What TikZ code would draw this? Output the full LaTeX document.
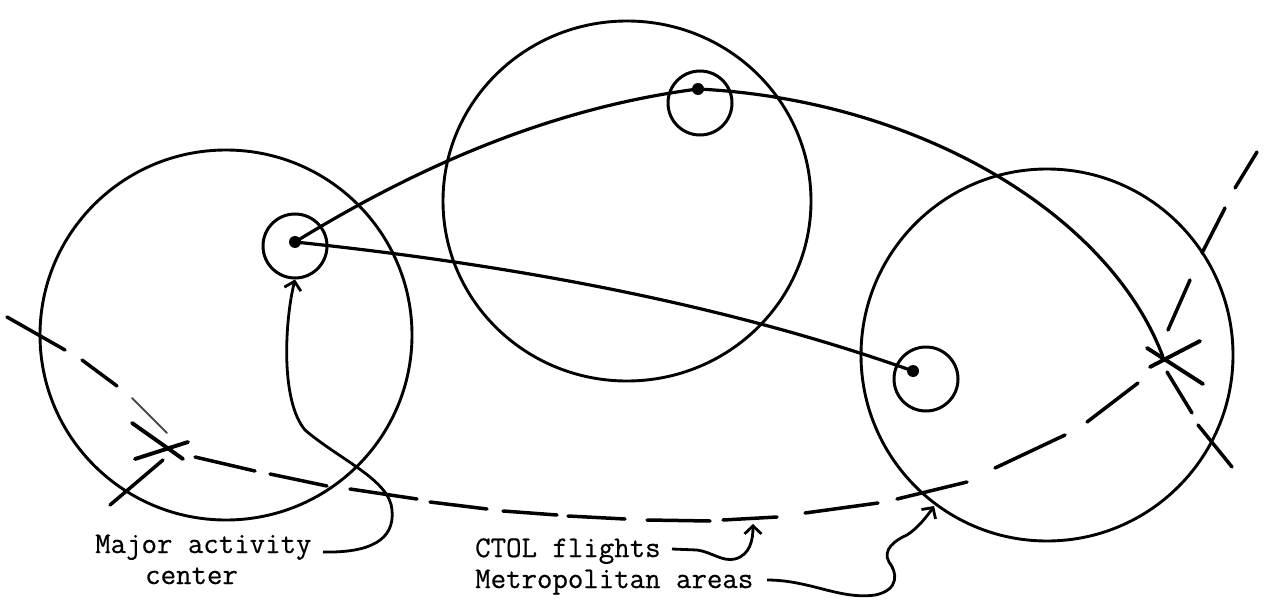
\documentclass[tikz,border=0pt]{standalone}
\usepackage{fontspec}
\setmonofont{Latin Modern Mono}[FakeBold=0.6]
\usetikzlibrary{arrows.meta}
\begin{document}
\begin{tikzpicture}[x=1pt,y=-1pt,
  bigc/.style={line width=2.9pt},
  smallc/.style={draw,circle,line width=3pt,minimum size=64pt,inner sep=0pt},
  dotc/.style={fill,circle,minimum size=12pt,inner sep=0pt},
  flight/.style={line width=3.2pt},
  ctol/.style={line width=3.5pt,line cap=round},
  faint/.style={line width=2pt,line cap=round,black!70},
  xmark/.style={line width=3.9pt,line cap=round},
  leader/.style={line width=2.8pt,-{Straight Barb[length=8pt,width=17pt]}},
  lab/.style={inner sep=0pt,anchor=base west,font=\fontsize{30}{32}\selectfont\ttfamily}]
\useasboundingbox (0,0) rectangle (1266,599);
% metropolitan areas
\draw[bigc] (226,335) ellipse [x radius=186,y radius=185];
\draw[bigc] (627,201) ellipse [x radius=184,y radius=180];
\draw[bigc] (1047,355) ellipse [x radius=186,y radius=186];
% major activity centers
\node[smallc] (c1) at (295,246) {};
\node[smallc] (c2) at (700,103) {};
\node[smallc] (c3) at (926,379) {};
\node[dotc] (d1) at (295,242) {};
\node[dotc] (d2) at (698,89) {};
\node[dotc] (d3) at (913,371) {};
% flights
\coordinate (xr) at (1163,357);
\coordinate (xl) at (168,447);
\draw[flight] (d1.center) .. controls (425,162) and (558,107) .. (d2.center);
\draw[flight] (d2.center) .. controls (920,100) and (1110,215) .. (xr);
\draw[flight] (d1.center) .. controls (495,263) and (713,300) .. (d3.center);
% CTOL dashed path (individual dashes)
\draw[ctol] (7,317) -- (65,350);
\draw[ctol] (82,360) -- (117,386);
\draw[faint] (132,398) -- (167,433);
\draw[ctol] (195,457) -- (255,471);
\draw[ctol] (270,474) -- (327,486);
\draw[ctol] (350,489) -- (417,499);
\draw[ctol] (430,502) -- (487,509);
\draw[ctol] (503,511) -- (557,515);
\draw[ctol] (568,516) -- (625,519);
\draw[ctol] (647,520) -- (710,521);
\draw[ctol] (723,520) -- (777,517);
\draw[ctol] (805,513) -- (878,503);
\draw[ctol] (897,499) -- (967,482);
\draw[ctol] (995,468) -- (1065,435);
\draw[ctol] (1087,422) -- (1138,383);
\draw[ctol] (1168,330) -- (1190,280);
\draw[ctol] (1202,253) -- (1225,208);
\draw[ctol] (1235,188) -- (1257,152);
% continuation of flight beyond the X
\draw[ctol] (1167,372) -- (1192,413);
\draw[ctol] (1198,425) -- (1232,467);
% X marks
\draw[xmark] (132,423) -- (183,459);
\draw[xmark] (135,459) -- (188,442);
\draw[ctol] (110,505) -- (163,460);
\draw[xmark] (1147,348) -- (1203,384);
\draw[xmark] (1150,367) -- (1200,341);
% labels
\node[lab] (t1) at (95,553) {Major activity};
\node[lab] (t2) at (145,584) {center};
\node[lab] (t3) at (475,557) {CTOL flights};
\node[lab] (t4) at (475,588) {Metropolitan areas};
% leaders
\coordinate (a1) at (323,552);
\coordinate (a2) at (672,549);
\coordinate (a3) at (767,580);
\draw[leader] (a1) .. controls (370,553) and (395,540) .. (392,510)
  .. controls (390,480) and (340,460) .. (305,430)
  .. controls (280,400) and (285,320) .. (c1.south);
\draw[leader] (a2) -- (697,550) .. controls (712,552) and (722,562) .. (735,559)
  .. controls (750,555) and (753,540) .. (753,524);
\draw[leader] (a3) .. controls (810,580) and (840,600) .. (875,595)
  .. controls (900,590) and (897,572) .. (889,562)
  .. controls (882,550) and (895,540) .. (907,535)
  .. controls (918,528) and (928,515) .. (934,506);
\end{tikzpicture}
\end{document}
